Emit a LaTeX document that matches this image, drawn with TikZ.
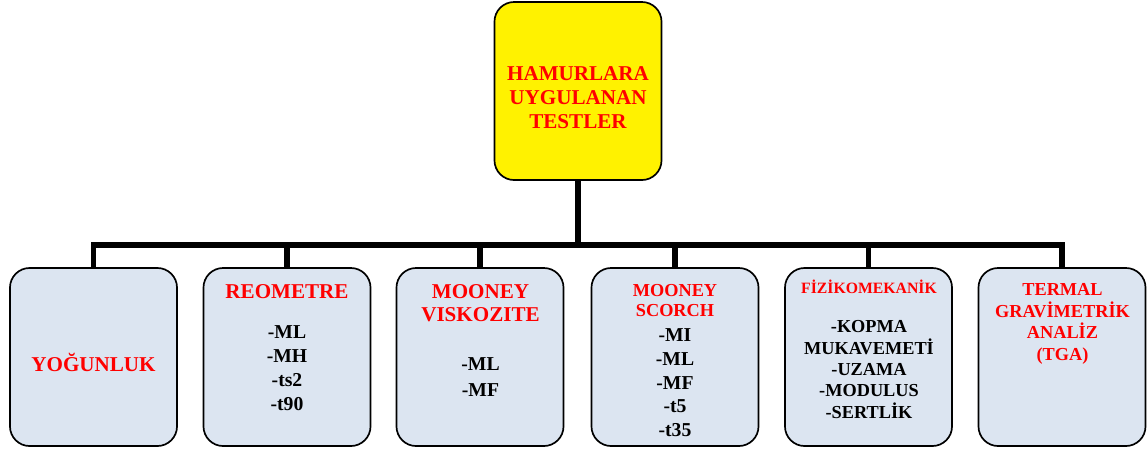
\documentclass[tikz,border=0pt]{standalone}
\usepackage{fontspec}
\setmainfont{Liberation Serif}
\definecolor{boxblue}{RGB}{220,229,241}

\begin{document}
\begin{tikzpicture}[x=0.025cm,y=-0.025cm,
    box/.style={draw=black,line width=1.2pt,rounded corners=14pt,fill=boxblue,
      minimum width=4.175cm,minimum height=4.45cm,inner sep=0pt},
    head/.style={text=red,font=\bfseries\fontsize{15}{17}\selectfont,
      align=center,anchor=base,inner sep=0pt},
    item/.style={text=black,font=\bfseries\fontsize{14}{17}\selectfont,
      align=center,anchor=base,inner sep=0pt},
    bar/.style={line width=4pt}]
        \useasboundingbox (0,0) rectangle (1147,450);
        % top box
        \node[box,fill=yellow] (tests) at (578,91) {};
        \node[head] (testsText) at (578,128.3) {HAMURLARA\\UYGULANAN\\TESTLER};
        % test boxes
        \node[box] (dens) at (93.5,357) {};
        \node[box] (rheo) at (287,357) {};
        \node[box] (visc) at (480,357) {};
        \node[box] (scorch) at (675,357) {};
        \node[box] (mech) at (868.5,357) {};
        \node[box] (tga) at (1062,357) {};
        % texts (base = last line)
        \node[head] (densText) at (93.5,371.7) {YOĞUNLUK};
        \node[head] (rheoText) at (287,298.3) {REOMETRE};
        \node[item] (rheoList) at (287,410) {-ML\\-MH\\-ts2\\-t90};
        \node[head,font=\bfseries\fontsize{15}{16.6}\selectfont] (viscText) at (480.5,321.7) {MOONEY\\VISKOZITE};
        \node[item,font=\bfseries\fontsize{14}{18.3}\selectfont] (viscList) at (480.5,396.7) {-ML\\-MF};
        \node[head,font=\bfseries\fontsize{13}{14.2}\selectfont] (scorchText) at (675,316.7) {MOONEY\\SCORCH};
        \node[item,font=\bfseries\fontsize{14}{16.9}\selectfont] (scorchList) at (675,436.7) {-MI\\-ML\\-MF\\-t5\\-t35};
        \node[head,font=\bfseries\fontsize{11.2}{13}\selectfont] (mechText) at (869,293.3) {FİZİKOMEKANİK};
        \node[item,font=\bfseries\fontsize{13}{15.2}\selectfont] (mechList) at (869,418.3) {-KOPMA\\MUKAVEMETİ\\-UZAMA\\-MODULUS\\-SERTLİK};
        \node[head,font=\bfseries\fontsize{13}{15.2}\selectfont] (tgaText) at (1062.5,360) {TERMAL\\GRAVİMETRİK\\ANALİZ\\(TGA)};
        % connectors
        \coordinate (hub) at (578,245);
        \draw[bar] (tests.south) -- (hub);
        \draw[bar] (dens.north) -- (dens.north |- hub) -- (tga.north |- hub) -- (tga.north);
        \foreach \n in {rheo,visc,scorch,mech}
            \draw[bar] (\n.north) -- (\n.north |- hub);
    \end{tikzpicture}
\end{document}
